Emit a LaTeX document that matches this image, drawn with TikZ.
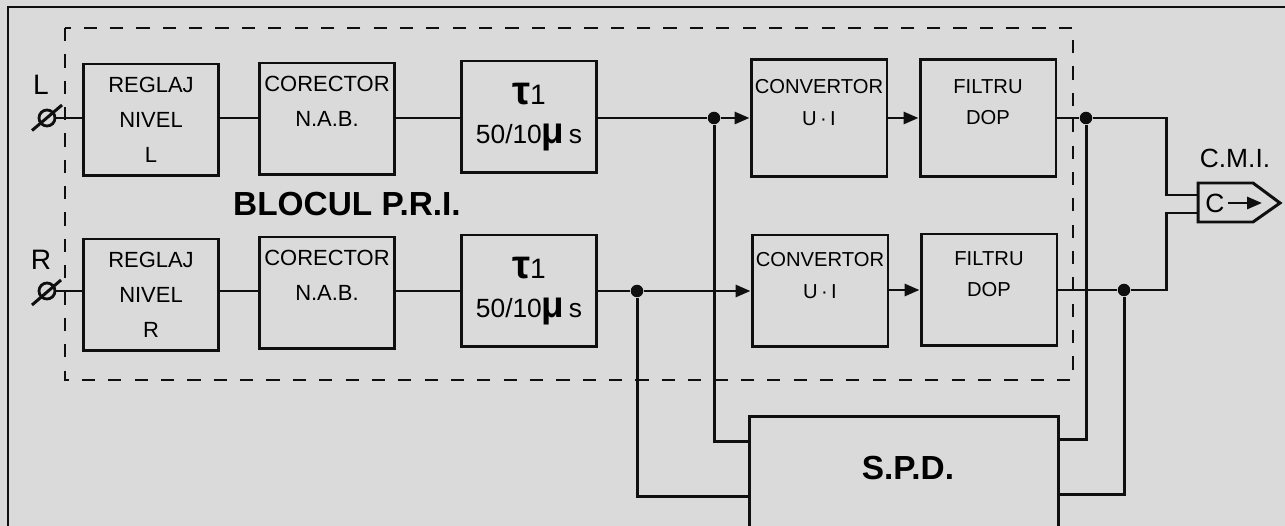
\documentclass[tikz,border=0pt]{standalone}
\usepackage{fontspec}
\setmainfont{Liberation Sans}
\usepackage{xcolor}
\usepackage{tikz}
\usetikzlibrary{arrows.meta, positioning}
\definecolor{paper}{RGB}{218,218,218}
\definecolor{ink}{RGB}{15,15,15}
\tikzstyle{block} = [
    rectangle,
    minimum width=2.72cm,
    minimum height=2.24cm,
    inner xsep=1pt,
    draw=ink,
    line width=1.7pt,
    align=center,
    font=\fontsize{12.5}{20}\selectfont
]
\tikzstyle{wire} = [
    line width=1.7pt,
    draw=ink
]
\tikzstyle{arrow} = [
    wire,
    -{Triangle[length=0.3cm, width=0.24cm]}
]
\tikzstyle{dot} = [
    circle,
    fill=ink,
    inner sep=0pt,
    minimum size=0.25cm
]
\tikzstyle{terminal} = [
    circle,
    draw=ink,
    line width=1.6pt,
    inner sep=0pt,
    minimum size=0.32cm
]
\tikzstyle{frame} = [
    draw=ink,
    line width=1.5pt,
    dash pattern=on 7.5pt off 7.5pt
]
\newcommand{\tautext}{%
  {\fontsize{23}{23}\selectfont\bfseries τ}{\fontsize{16}{16}\selectfont 1}\\[2pt]
  {\fontsize{15}{15}\selectfont 50/10}{\fontsize{21}{21}\selectfont\bfseries μ}{\fontsize{15}{15}\selectfont\,s}}

\begin{document}
\begin{tikzpicture}[x=0.02cm, y=-0.02cm]
        \useasboundingbox (0,0) rectangle (1285,526);
        \clip (0,0) rectangle (1285,526);
        \fill[paper] (0,0) rectangle (1285,526);
        \draw[ink, line width=1.2pt] (8,7) rectangle (1300,540);

        % Dashed P.R.I. block
        \draw[frame] (65,28) rectangle (1073,380);
        \node[font=\fontsize{19}{19}\selectfont\bfseries] (blocul) at (347,204) {BLOCUL P.R.I.};

        % Nodes - channel L
        \node[terminal] (inL) at (47,118) {};
        \node[font=\fontsize{16}{16}\selectfont] (lblL) at (41,85) {L};
        \node[block] (regL) at (151,120) {REGLAJ\\NIVEL\\L};
        \node[block] (corL) at (327,119) {CORECTOR\\N.A.B.\\\mbox{}};
        \node[block] (tauL) at (529,117) {\tautext};
        \node[block, minimum height=2.34cm, font=\fontsize{11.5}{18}\selectfont] (convL) at (819,118) {CONVERTOR\\U\,·\,I\\\mbox{}};
        \node[block, minimum height=2.34cm, font=\fontsize{11.5}{18}\selectfont] (filL) at (988,118) {FILTRU\\DOP\\\mbox{}};

        % Nodes - channel R
        \node[terminal] (inR) at (47,291) {};
        \node[font=\fontsize{16}{16}\selectfont] (lblR) at (41,260) {R};
        \node[block] (regR) at (151,295) {REGLAJ\\NIVEL\\R};
        \node[block] (corR) at (327,293) {CORECTOR\\N.A.B.\\\mbox{}};
        \node[block] (tauR) at (529,291) {\tautext};
        \node[block, font=\fontsize{11.5}{18}\selectfont] (convR) at (820,291) {CONVERTOR\\U\,·\,I\\\mbox{}};
        \node[block, font=\fontsize{11.5}{18}\selectfont] (filR) at (989,290) {FILTRU\\DOP\\\mbox{}};

        % S.P.D.
        \node[block, minimum width=6.2cm, minimum height=3cm,
              label={[name=spdtxt, font=\fontsize{19}{19}\selectfont\bfseries, xshift=0.08cm, yshift=0.46cm]center:S.P.D.}] (spd) at (904,491) {};

        % C.M.I. connector
        \coordinate (cmi) at (1198,203);
        \draw[ink, line width=1.7pt] (cmi) |- (1253,183) -- (1280,203) -- (1253,222) -| (cmi);
        \node[font=\fontsize{15}{15}\selectfont, anchor=west, inner sep=0pt] (cmiC) at ([xshift=0.14cm]cmi) {C};
        \node[font=\fontsize{15}{15}\selectfont, inner sep=0pt] (cmilbl) at (1235,158) {C.M.I.};

        % Junctions and pins
        \node[dot] (jtop) at (714,118) {};
        \node[dot] (jbot) at (637,291) {};
        \node[dot] (jout1) at (1086,118) {};
        \node[dot] (jout2) at (1124,290) {};
        \coordinate (spdI1) at ([yshift=-0.54cm]spd.north west);
        \coordinate (spdI2) at ([yshift=-1.64cm]spd.north west);
        \coordinate (spdO1) at ([yshift=-0.5cm]spd.north east);
        \coordinate (spdO2) at ([yshift=-1.6cm]spd.north east);
        \coordinate (cmiA) at (1198,195);
        \coordinate (cmiB) at (1198,213);

        % Input terminals
        \draw[wire] ([shift={(-0.3cm,-0.25cm)}]inL.center) -- ([shift={(0.3cm,0.26cm)}]inL.center);
        \draw[wire] ([shift={(-0.3cm,-0.28cm)}]inR.center) -- ([shift={(0.28cm,0.22cm)}]inR.center);
        \draw[wire] (inL) -- (regL.west |- inL);
        \draw[wire] (inR) -- (regR.west |- inR);

        % Signal flow - channel L
        \draw[wire] (regL.east |- jtop) -- (corL.west |- jtop);
        \draw[wire] (corL.east |- jtop) -- (tauL.west |- jtop);
        \draw[wire] (tauL.east |- jtop) -- (jtop);
        \draw[arrow] (jtop) -- (convL);
        \draw[arrow] (convL) -- (filL);
        \draw[wire] (filL) -- (jout1);

        % Signal flow - channel R
        \draw[wire] (regR.east |- jbot) -- (corR.west |- jbot);
        \draw[wire] (corR.east |- jbot) -- (tauR.west |- jbot);
        \draw[wire] (tauR.east |- jbot) -- (jbot);
        \draw[arrow] (jbot) -- (convR.west |- jbot);
        \draw[arrow] (convR.east |- filR) -- (filR);
        \draw[wire] (filR) -- (jout2);

        % S.P.D. links
        \draw[wire] (jtop) |- (spdI1);
        \draw[wire] (jbot) |- (spdI2);
        \draw[wire] (jout1) |- (spdO1);
        \draw[wire] (jout2) |- (spdO2);

        % Output to C.M.I.
        \draw[wire] (jout1) -| ([xshift=-0.64cm]cmiA) -- (cmiA);
        \draw[wire] (jout2) -| ([xshift=-0.64cm]cmiB) -- (cmiB);
        \draw[arrow] ([xshift=0.06cm]cmiC.east) -- (1262,203);
    \end{tikzpicture}
\end{document}
